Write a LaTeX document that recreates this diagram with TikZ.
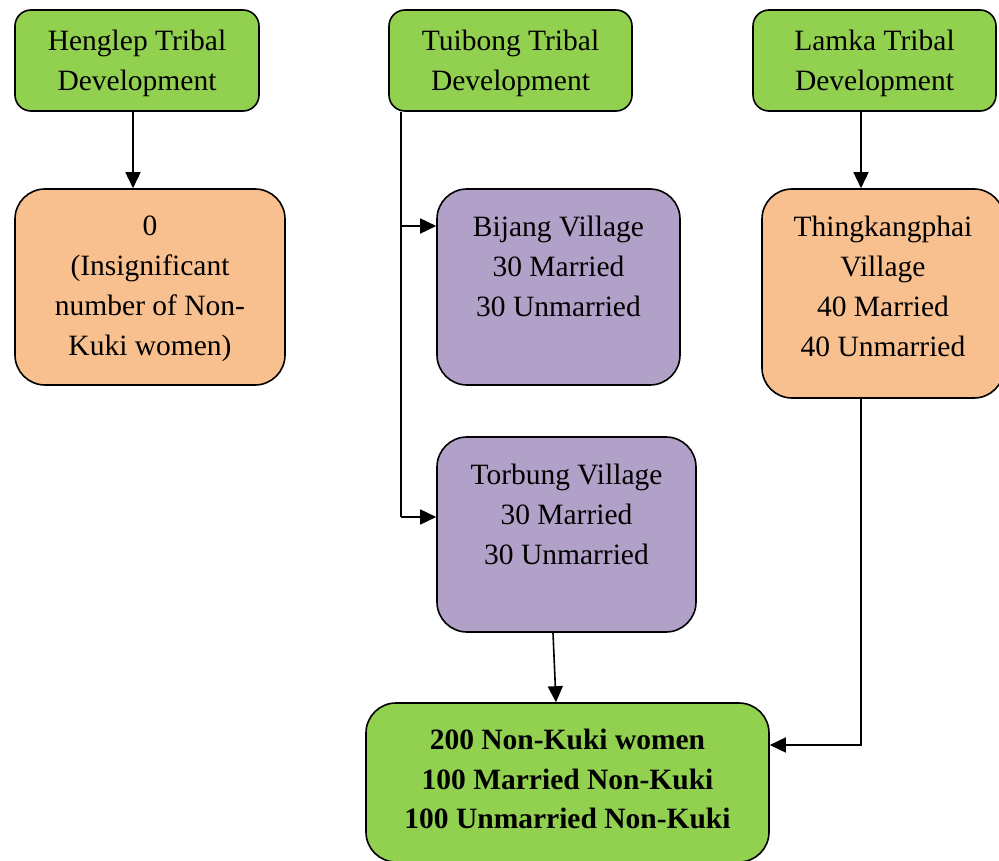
\documentclass[tikz,border=0pt]{standalone}
\usepackage{fontspec}
\setmainfont{Liberation Serif}
\usetikzlibrary{arrows.meta,calc}
\definecolor{cgreen}{HTML}{92D050}
\definecolor{corange}{HTML}{F8BF8F}
\definecolor{cpurple}{HTML}{B1A0C7}
\begin{document}
\begin{tikzpicture}[x=1pt,y=-1pt,
  font=\fontsize{29.5}{40}\selectfont,
  box/.style={draw=black, line width=1.6pt, rounded corners=16pt, inner sep=0pt, align=center},
  big/.style={box, rounded corners=30pt},
  txt/.style={align=center, inner sep=0pt},
  conn/.style={line width=1.6pt, -{Triangle[length=16pt,width=15pt]}},
  plain/.style={line width=1.6pt}]
\useasboundingbox (0,0) rectangle (999,861);

% top row
\node[box, fill=cgreen, minimum width=244pt, minimum height=101pt] (hen) at (137,60.5) {};
\node[txt] (hent) at (137,63.5) {Henglep Tribal\\Development};
\node[box, fill=cgreen, minimum width=243pt, minimum height=101pt] (tui) at (510.5,60.5) {};
\node[txt] (tuit) at (510.5,63.5) {Tuibong Tribal\\Development};
\node[box, fill=cgreen, minimum width=243pt, minimum height=101pt] (lam) at (874.5,60.5) {};
\node[txt] (lamt) at (874.5,63.5) {Lamka Tribal\\Development};

% second row
\node[big, fill=corange, minimum width=270pt, minimum height=196pt] (zero) at (150,287) {};
\node[txt] (zerot) at (150,289) {0\\(Insignificant\\number of Non-\\Kuki women)};
\node[big, fill=cpurple, minimum width=243pt, minimum height=196pt] (bij) at (558.5,287) {};
\node[txt] (bijt) at (558.5,266) {Bijang Village\\30 Married\\30 Unmarried};
\node[big, fill=corange, minimum width=242pt, minimum height=209pt] (thing) at (883,293.5) {};
\node[txt] (thingt) at (883,286) {Thingkangphai\\Village\\40 Married\\40 Unmarried};

% third row
\node[big, fill=cpurple, minimum width=259pt, minimum height=195pt] (tor) at (566.5,534.5) {};
\node[txt] (tort) at (566.5,514) {Torbung Village\\30 Married\\30 Unmarried};

% bottom
\node[big, fill=cgreen, minimum width=403pt, minimum height=159pt] (bot) at (567.5,782.5) {};
\node[txt, font=\fontsize{29.5}{39.5}\selectfont\bfseries] (bott) at (567.5,779) {200 Non-Kuki women\\100 Married Non-Kuki\\100 Unmarried Non-Kuki};

% connectors
\draw[conn] ([xshift=-4pt]hen.south) -- ([xshift=-4pt]hen.south |- zero.north);
\draw[conn] ([xshift=-13.5pt]lam.south) -- ([xshift=-13.5pt]lam.south |- thing.north);

\coordinate (j1) at (401,226);
\coordinate (j2) at (401,517);
\draw[plain] (j1 |- tui.south) -- (j2);
\draw[conn] (j1) -- (j1 -| bij.west);
\draw[conn] (j2) -- (j2 -| tor.west);

\draw[conn] ([xshift=-13.5pt]tor.south) -- ([xshift=-11.5pt]bot.north);

\coordinate (k) at (861,745);
\draw[conn] ([xshift=-22pt]thing.south) -- (k) -- (k -| bot.east);
\end{tikzpicture}
\end{document}
